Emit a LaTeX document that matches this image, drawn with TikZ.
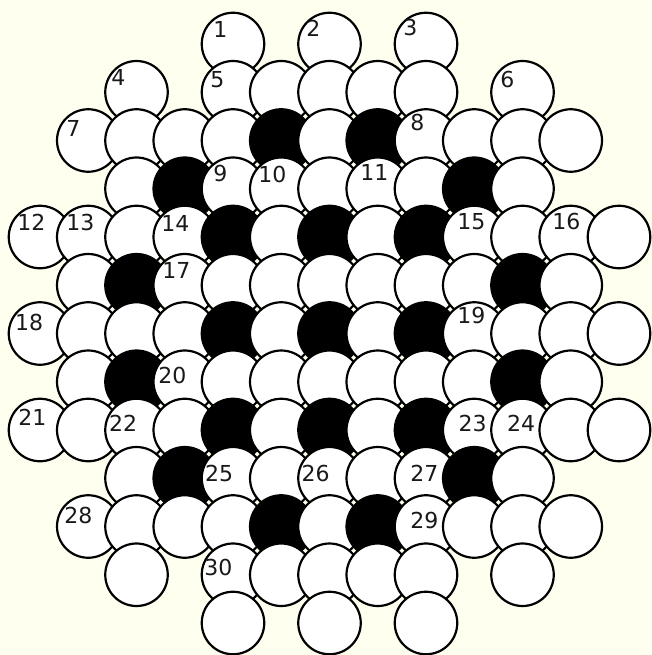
\documentclass[tikz,border=0pt]{standalone}
\usepackage{fontspec}
\setmainfont{DejaVu Sans}
\definecolor{bgivory}{RGB}{255,255,240}
\begin{document}
\begin{tikzpicture}[x=1pt,y=-1pt,
  disc/.style={circle, draw=black, line width=2.2pt, minimum size=62.5pt, inner sep=0pt},
  num/.style={anchor=base west, inner sep=0pt, text=black!90, font=\fontsize{22}{24}\selectfont}]
\fill[bgivory] (0,0) rectangle (652,655);
\useasboundingbox (0,0) rectangle (652,655);
\foreach \r/\cols/\blk in {
  0/{4,6,8}/{-1},
  1/{2,4,5,6,7,8,10}/{-1},
  2/{1,...,11}/{5,7},
  3/{2,...,10}/{3,9},
  4/{0,...,12}/{4,6,8},
  5/{1,...,11}/{2,10},
  6/{0,...,12}/{4,6,8},
  7/{1,...,11}/{2,10},
  8/{0,...,12}/{4,6,8},
  9/{2,...,10}/{3,9},
  10/{1,...,11}/{5,7},
  11/{2,4,5,6,7,8,10}/{-1},
  12/{4,6,8}/{-1}}{
  \foreach \c in \cols {
    \gdef\fillc{white}
    \foreach \b in \blk {\ifnum\b=\c\relax\gdef\fillc{black}\fi}
    \node[disc, fill=\fillc] (n-\r-\c) at ({40+48.25*\c},{44+48.25*\r}) {};
  }
}
\foreach \t/\x/\y in {
  1/215/37.3, 2/308/36.7, 3/405/36, 4/113/86, 5/212/87.3, 6/502/87.3,
  7/68/136.7, 8/412/130.7, 9/215/181.7, 10/260/182.7, 11/362/180.7,
  12/19/230.7, 13/68/230.7, 14/163/231.7, 15/459/229.3, 16/554/229.3,
  17/164/278.3, 18/16.7/330, 19/459/323.3, 20/160/383.3, 21/20/425,
  22/110.7/431.7, 23/460.3/431.7, 24/508.7/431.7, 25/206.7/481,
  26/303.3/481, 27/412/481, 28/66/523.3, 29/412/528.3, 30/206/575.7}{
  \node[num] (lab-\t) at (\x-1.8,\y) {\t};
}
\end{tikzpicture}
\end{document}
